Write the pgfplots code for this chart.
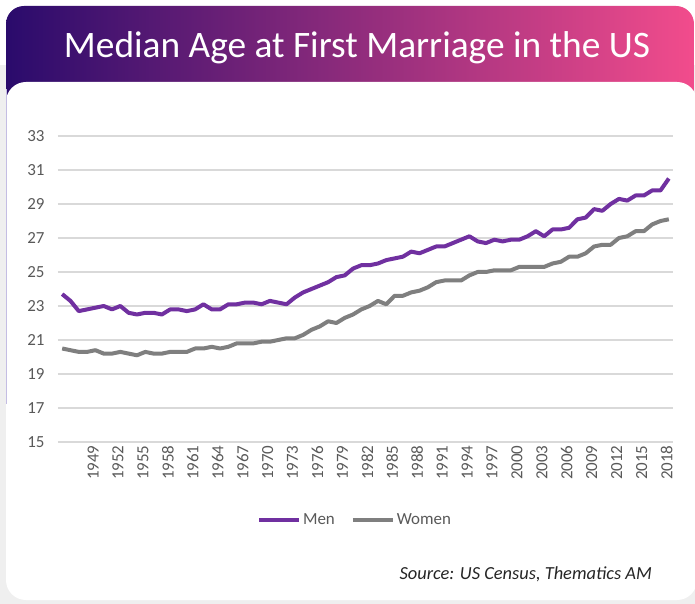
\documentclass[border=0pt]{standalone}
\usepackage{pgfplots}
\pgfplotsset{compat=1.18}
\usepackage{fontspec}
\setmainfont{Carlito}
\definecolor{menc}{HTML}{7030A0}
\definecolor{womc}{HTML}{7F7F7F}
\definecolor{gridc}{HTML}{D9D9D9}
\definecolor{tickc}{HTML}{595959}
\definecolor{bannerL}{HTML}{2A0B6C}
\definecolor{bannerR}{HTML}{F24C8C}
\definecolor{bgc}{HTML}{EFEFEF}
\definecolor{edgec}{HTML}{C4BDE3}

\pgfplotstableread{
year men women
1946 23.7 20.5
1947 23.3 20.4
1948 22.7 20.3
1949 22.8 20.3
1950 22.9 20.4
1951 23.0 20.2
1952 22.8 20.2
1953 23.0 20.3
1954 22.6 20.2
1955 22.5 20.1
1956 22.6 20.3
1957 22.6 20.2
1958 22.5 20.2
1959 22.8 20.3
1960 22.8 20.3
1961 22.7 20.3
1962 22.8 20.5
1963 23.1 20.5
1964 22.8 20.6
1965 22.8 20.5
1966 23.1 20.6
1967 23.1 20.8
1968 23.2 20.8
1969 23.2 20.8
1970 23.1 20.9
1971 23.3 20.9
1972 23.2 21.0
1973 23.1 21.1
1974 23.5 21.1
1975 23.8 21.3
1976 24.0 21.6
1977 24.2 21.8
1978 24.4 22.1
1979 24.7 22.0
1980 24.8 22.3
1981 25.2 22.5
1982 25.4 22.8
1983 25.4 23.0
1984 25.5 23.3
1985 25.7 23.1
1986 25.8 23.6
1987 25.9 23.6
1988 26.2 23.8
1989 26.1 23.9
1990 26.3 24.1
1991 26.5 24.4
1992 26.5 24.5
1993 26.7 24.5
1994 26.9 24.5
1995 27.1 24.8
1996 26.8 25.0
1997 26.7 25.0
1998 26.9 25.1
1999 26.8 25.1
2000 26.9 25.1
2001 26.9 25.3
2002 27.1 25.3
2003 27.4 25.3
2004 27.1 25.3
2005 27.5 25.5
2006 27.5 25.6
2007 27.6 25.9
2008 28.1 25.9
2009 28.2 26.1
2010 28.7 26.5
2011 28.6 26.6
2012 29.0 26.6
2013 29.3 27.0
2014 29.2 27.1
2015 29.5 27.4
2016 29.5 27.4
2017 29.8 27.8
2018 29.8 28.0
2019 30.5 28.1
}\datatable

\begin{document}
\begin{tikzpicture}
\useasboundingbox (0bp,0bp) rectangle (695bp,604bp);
\clip (0bp,0bp) rectangle (695bp,604bp);
\begin{scope}[x=1bp,y=1bp]
  \fill[bgc] (0,0) rectangle (695,539);
  \shade[left color=bannerL, right color=bannerR, rounded corners=18] (6,598) rectangle (694,480);
  \fill[white, rounded corners=20] (6,522) rectangle (697,4);
  \draw[edgec, line width=1] (6.5,515) -- (6.5,200);
  \node[text=white, font=\fontsize{37.5}{44}\selectfont] at (357,556) {Median Age at First Marriage in the US};
  \node[anchor=base east, font=\itshape\fontsize{18.5}{22}\selectfont, text=black!85, inner sep=0] at (652,25) {Source: US Census, Thematics AM};
\end{scope}
\begin{axis}[
  at={(58bp,162bp)}, anchor=south west, scale only axis,
  width=615bp, height=306bp,
  xmin=1945.5, xmax=2019.5, ymin=15, ymax=33,
  ytick={15,17,...,33},
  xtick={1949,1952,...,2018},
  /pgf/number format/1000 sep={},
  /pgf/number format/assume math mode=true,
  axis line style={draw=none},
  major tick length=0pt,
  ymajorgrids, grid style={gridc, line width=1.3bp},
  tick label style={font=\fontsize{17}{20}\selectfont, text=tickc},
  xticklabel style={rotate=90, anchor=east, yshift=-6bp},
  yticklabel style={xshift=-10bp},
  legend style={at={(0.483,-0.255)}, anchor=center, draw=none, fill=none,
    legend columns=2, font=\fontsize{17}{20}\selectfont, text=tickc,
    /tikz/every even column/.append style={column sep=14bp},
    legend cell align=left},
  legend image code/.code={\draw[#1] (0bp,0bp) -- (40bp,0bp);},
  clip=false,
]
\addplot[menc, line width=4bp, line join=round] table[x=year, y=men] {\datatable};
\addlegendentry{Men}
\addplot[womc, line width=4bp, line join=round] table[x=year, y=women] {\datatable};
\addlegendentry{Women}
\end{axis}
\end{tikzpicture}
\end{document}
